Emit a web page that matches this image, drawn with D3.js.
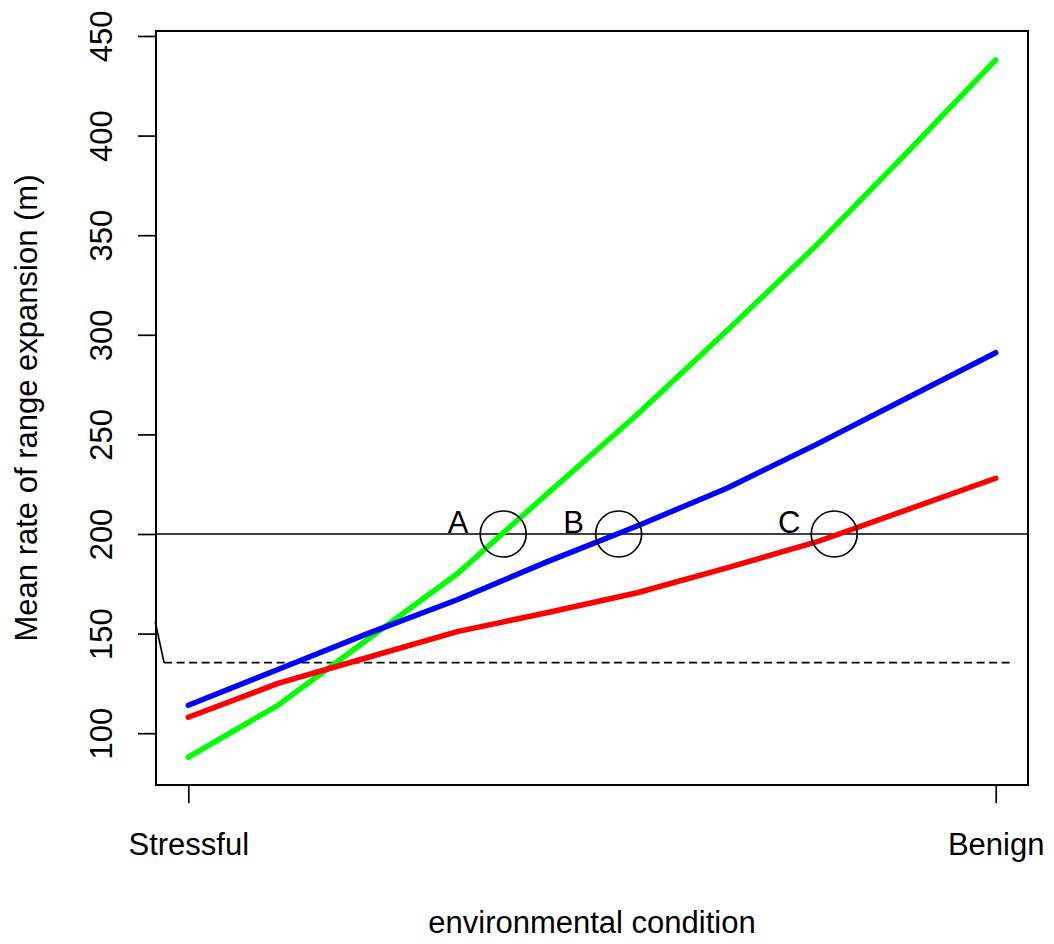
<!DOCTYPE html>
<html>
<head>
<meta charset="utf-8">
<script src="https://cdn.jsdelivr.net/npm/d3@7"></script>
<style>
  body { margin: 0; background: #fff; }
  text { font-family: "Liberation Sans", Arial, sans-serif; fill: #000; }
</style>
</head>
<body>
<div id="chart"></div>
<script>
// environmental gradient, stressful (0) -> benign (1)
const condition = [0, 0.111, 0.222, 0.333, 0.444, 0.556, 0.667, 0.778, 0.889, 1];
const greenSeries = [88, 114, 147, 180, 220, 260, 302, 345, 391, 438];
const redSeries = [108, 125, 138, 151, 160.5, 170.5, 183, 196, 212, 228];
const blueSeries = [114, 132, 150, 167, 186, 204, 223, 245, 268, 291];

const yTicks = [100, 150, 200, 250, 300, 350, 400, 450];
const xTicks = [0, 1];
const xTickLabels = ["Stressful", "Benign"];

const refLevel = 200;
const dashLevel = 135.4;
const dashRange = [-0.03, 1.023];
const slantX = [-0.041, -0.03];
const slantY = [156, 135.4];

const markX = [0.39, 0.533, 0.8];
const markLabels = ["A", "B", "C"];

const width = 1054, height = 944;
const margin = { top: 31, right: 26, bottom: 159, left: 156 };
const fontSize = "31px";

const svg = d3.select("#chart")
    .append("svg")
    .attr("width", width)
    .attr("height", height);

const x = d3.scaleLinear()
    .domain([-0.04, 1.04])
    .range([margin.left, width - margin.right]);

const y = d3.scaleLinear()
    .domain([74, 452.5])
    .range([height - margin.bottom, margin.top]);

// y axis, labels parallel to the axis (R style)
const yAxis = svg.append("g")
    .attr("transform", `translate(${margin.left},0)`)
    .call(d3.axisLeft(y).tickValues(yTicks).tickSize(18).tickFormat(d3.format("d")));
yAxis.select(".domain").remove();
yAxis.selectAll(".tick line").attr("stroke", "#000").attr("stroke-width", 1.7);
yAxis.selectAll(".tick text")
    .attr("x", null)
    .attr("dy", null)
    .attr("text-anchor", "middle")
    .attr("transform", "translate(-44,0) rotate(-90)")
    .style("font-size", fontSize);

// x axis with just two ticks
const xAxis = svg.append("g")
    .attr("transform", `translate(0,${height - margin.bottom})`)
    .call(d3.axisBottom(x).tickValues(xTicks).tickSize(18).tickFormat((d, i) => xTickLabels[i]));
xAxis.select(".domain").remove();
xAxis.selectAll(".tick line").attr("stroke", "#000").attr("stroke-width", 1.7);
xAxis.selectAll(".tick text")
    .attr("y", 70)
    .attr("dy", null)
    .style("font-size", fontSize);

// reference lines
svg.append("line")
    .attr("x1", margin.left).attr("x2", width - margin.right)
    .attr("y1", y(refLevel)).attr("y2", y(refLevel))
    .attr("stroke", "#000").attr("stroke-width", 1.7);

svg.append("line")
    .attr("x1", x(dashRange[0])).attr("x2", x(dashRange[1]))
    .attr("y1", y(dashLevel)).attr("y2", y(dashLevel))
    .attr("stroke", "#000").attr("stroke-width", 1.7)
    .attr("stroke-dasharray", "8,4.5");

svg.append("line")
    .attr("x1", x(slantX[0])).attr("x2", x(slantX[1]))
    .attr("y1", y(slantY[0])).attr("y2", y(slantY[1]))
    .attr("stroke", "#000").attr("stroke-width", 1.7);

// series lines
const line = d3.line()
    .x((d, i) => x(condition[i]))
    .y(d => y(d));

const series = [
    { values: greenSeries, color: "#00ff00" },
    { values: redSeries, color: "#ff0000" },
    { values: blueSeries, color: "#0000ff" }
];

svg.selectAll(".series")
    .data(series)
    .enter()
    .append("path")
    .attr("class", "series")
    .attr("d", d => line(d.values))
    .attr("fill", "none")
    .attr("stroke", d => d.color)
    .attr("stroke-width", 5.5)
    .attr("stroke-linecap", "round")
    .attr("stroke-linejoin", "round");

// crossing markers
svg.selectAll(".mark")
    .data(markX)
    .enter()
    .append("circle")
    .attr("class", "mark")
    .attr("cx", d => x(d))
    .attr("cy", y(refLevel))
    .attr("r", 23)
    .attr("fill", "none")
    .attr("stroke", "#000")
    .attr("stroke-width", 1.7);

svg.selectAll(".markLabel")
    .data(markX)
    .enter()
    .append("text")
    .attr("class", "markLabel")
    .attr("x", d => x(d) - 45)
    .attr("y", y(refLevel) - 1)
    .attr("text-anchor", "middle")
    .style("font-size", fontSize)
    .text((d, i) => markLabels[i]);

// box
svg.append("rect")
    .attr("x", margin.left).attr("y", margin.top)
    .attr("width", width - margin.left - margin.right)
    .attr("height", height - margin.top - margin.bottom)
    .attr("fill", "none")
    .attr("stroke", "#000")
    .attr("stroke-width", 2);

// axis titles
svg.append("text")
    .attr("x", (margin.left + width - margin.right) / 2)
    .attr("y", 933)
    .attr("text-anchor", "middle")
    .style("font-size", fontSize)
    .text("environmental condition");

svg.append("text")
    .attr("transform", `translate(37,${(margin.top + height - margin.bottom) / 2}) rotate(-90)`)
    .attr("text-anchor", "middle")
    .style("font-size", fontSize)
    .text("Mean rate of range expansion (m)");
</script>
</body>
</html>
